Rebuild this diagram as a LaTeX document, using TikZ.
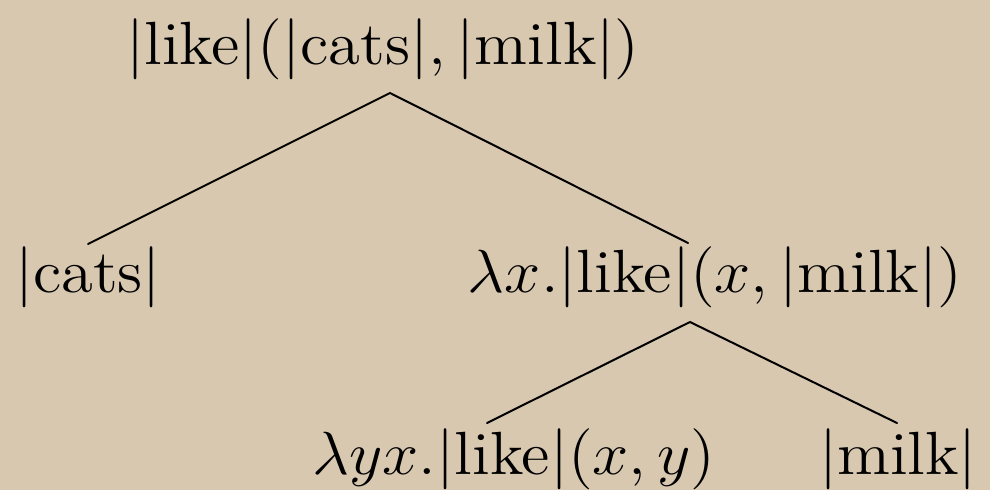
\documentclass[tikz,border=0pt]{standalone}
\usepackage{graphicx}
\newcommand\den[1]{|\mbox{#1}|}
\newcommand\bigtxt[1]{\scalebox{5.41}[5.083]{\fontsize{12}{14}\selectfont #1}}
\definecolor{paper}{RGB}{216,200,176}
\tikzset{
  lbl/.style={inner sep=0pt, anchor=base},
  edge/.style={draw=black, line width=2pt, line cap=round}
}
\begin{document}
\begin{tikzpicture}[x=1pt,y=-1pt]
\fill[paper] (0,0) rectangle (990,490);
\useasboundingbox (0,0) rectangle (990,490);
\node[lbl] (root) at (383,64) {\bigtxt{$\den{like}(\den{cats},\den{milk})$}};
\node[lbl] (cats) at (88,292) {\bigtxt{$\den{cats}$}};
\node[lbl] (vp) at (715,292) {\bigtxt{$\lambda x.\den{like}(x,\den{milk})$}};
\node[lbl] (verb) at (514,474) {\bigtxt{$\lambda yx.\den{like}(x,y)$}};
\node[lbl] (milk) at (898,474) {\bigtxt{$\den{milk}$}};
\coordinate (rootapex) at (390,93);
\coordinate (catstop) at (88,244);
\coordinate (vptop) at (688,243);
\coordinate (vpapex) at (690,322);
\coordinate (verbtop) at (487,423);
\coordinate (milktop) at (897,423);
\draw[edge] (catstop) -- (rootapex) -- (vptop);
\draw[edge] (verbtop) -- (vpapex) -- (milktop);
\end{tikzpicture}
\end{document}
